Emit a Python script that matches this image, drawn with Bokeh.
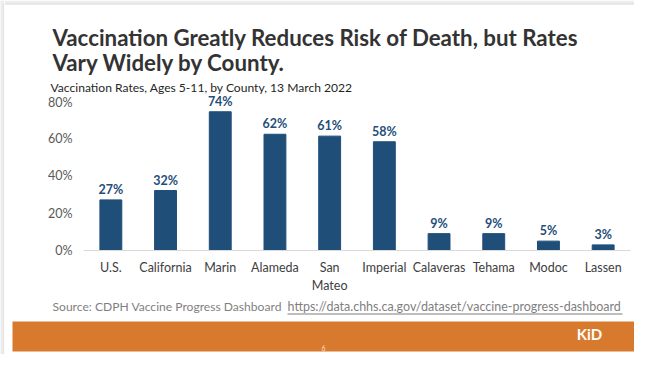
from bokeh.plotting import figure
from bokeh.layouts import column, row
from bokeh.models import (ColumnDataSource, FactorRange, Range1d, FixedTicker,
                          Label, LabelSet, BoxAnnotation)
from bokeh.core.properties import value
from bokeh.embed import file_html
from bokeh.resources import INLINE

# ---- data ----
categories = ["U.S.", "California", "Marin", "Alameda", "San\nMateo",
              "Imperial", "Calaveras", "Tehama", "Modoc", "Lassen"]
rates = [27, 32, 74, 62, 61, 58, 9, 9, 5, 3]
rate_labels = [f"{v}%" for v in rates]
y_ticks = [0, 20, 40, 60, 80]
y_tick_labels = ["0%", "20%", "40%", "60%", "80%"]

title_line1 = "Vaccination Greatly Reduces Risk of Death, but Rates"
title_line2 = "Vary Widely by County."
subtitle = "Vaccination Rates, Ages 5-11, by County, 13 March 2022"
source_text = "Source: CDPH Vaccine Progress Dashboard"
source_url = "https://data.chhs.ca.gov/dataset/vaccine-progress-dashboard"
page_number = "6"
logo_text = "KiD"

FONT = "Lato"
BAR = "#1F4E79"
EDGE_W = 4
W = 630
H_TOP, H_MID, H_BOT = 94, 202, 58
H_ALL = H_TOP + H_MID + H_BOT


def blank_fig(w, h, bg="white"):
    f = figure(width=w, height=h, x_range=Range1d(0, w), y_range=Range1d(0, h),
               output_backend="svg", toolbar_location=None,
               x_axis_location=None, y_axis_location=None, min_border=0)
    f.frame_align = False
    f.xgrid.visible = False
    f.ygrid.visible = False
    f.outline_line_color = None
    f.background_fill_color = bg
    f.border_fill_color = bg
    return f


def lab(f, h, text, x, top, size, color, bold=False, align="left", baseline="alphabetic"):
    f.add_layout(Label(x=x, y=h - top, x_units="screen", y_units="screen",
                       text=text, text_font=FONT, text_font_size=size,
                       text_color=color, text_align=align, text_baseline=baseline,
                       text_font_style="bold" if bold else "normal"))


def box(f, h, x0, x1, y0, y1, color):
    f.add_layout(BoxAnnotation(left=x0, right=x1, top=h - y0, bottom=h - y1,
                               left_units="screen", right_units="screen",
                               top_units="screen", bottom_units="screen",
                               fill_color=color, fill_alpha=1, line_color=None))


# ---- left slide edge ----
edge = blank_fig(EDGE_W, H_ALL, bg="#EDEDED")
box(edge, H_ALL, 3, 4, 3, H_ALL, "#D6D6D6")

# ---- top: title block ----
top = blank_fig(W, H_TOP)
box(top, H_TOP, 0, W, 0, 3, "#EDEDED")
box(top, H_TOP, 0, W, 3, 4, "#D6D6D6")
lab(top, H_TOP, title_line1, 48, 37, "22.3px", "#333333", bold=True)
lab(top, H_TOP, title_line2, 48, 62, "22.3px", "#333333", bold=True)
lab(top, H_TOP, subtitle, 46, 87, "12.1px", "#262626")

# ---- middle: bar chart ----
src = ColumnDataSource(dict(cat=categories, rate=rates, lab=rate_labels))
p = figure(width=W, height=H_MID, x_range=FactorRange(*categories),
           y_range=Range1d(0, 83.2), output_backend="svg",
           toolbar_location=None, min_border_left=79, min_border_right=4,
           min_border_top=0, min_border_bottom=46)
p.frame_align = False
p.background_fill_color = "white"
p.border_fill_color = "white"
p.outline_line_color = None
p.xgrid.visible = False
p.ygrid.visible = False

p.vbar(x="cat", top="rate", width=0.4, source=src, color=BAR)
p.add_layout(LabelSet(x="cat", y="rate", text="lab", source=src,
                      text_align="center", text_baseline="bottom", y_offset=3,
                      text_font=value(FONT), text_font_style="bold",
                      text_font_size="12.5px", text_color=BAR))

p.yaxis.ticker = FixedTicker(ticks=y_ticks)
p.yaxis.major_label_overrides = dict(zip(y_ticks, y_tick_labels))
p.yaxis.axis_line_color = None
p.yaxis.major_tick_line_color = None
p.yaxis.major_tick_out = 0
p.yaxis.minor_tick_line_color = None
p.yaxis.minor_tick_out = 0
p.yaxis.major_label_standoff = 11
p.yaxis.major_label_text_font = FONT
p.yaxis.major_label_text_font_size = "12.5px"
p.yaxis.major_label_text_color = "#595959"

p.xaxis.axis_line_color = "#D9D9D9"
p.xaxis.major_tick_line_color = None
p.xaxis.major_tick_out = 0
p.xaxis.major_label_standoff = 9
p.xaxis.major_label_text_font = FONT
p.xaxis.major_label_text_font_size = "12.5px"
p.xaxis.major_label_text_color = "#404040"

# ---- bottom: source + footer band ----
bot = blank_fig(W, H_BOT)
lab(bot, H_BOT, source_text, 48, 9.5, "12.1px", "#7F7F7F")
lab(bot, H_BOT, source_url, 283, 9.5, "12.5px", "#7F7F7F")
box(bot, H_BOT, 283, 618, 17, 18, "#7F7F7F")
box(bot, H_BOT, 8, W, 25, 55, "#D87A2D")
lab(bot, H_BOT, page_number, 319, 51, "7px", "#F8DCC0", align="center", baseline="middle")
lab(bot, H_BOT, logo_text, 585, 37, "15px", "white", bold=True, align="center", baseline="middle")

layout = row(edge, column(top, p, bot, spacing=0), spacing=0)
open("out.html", "w").write(file_html(layout, INLINE))
